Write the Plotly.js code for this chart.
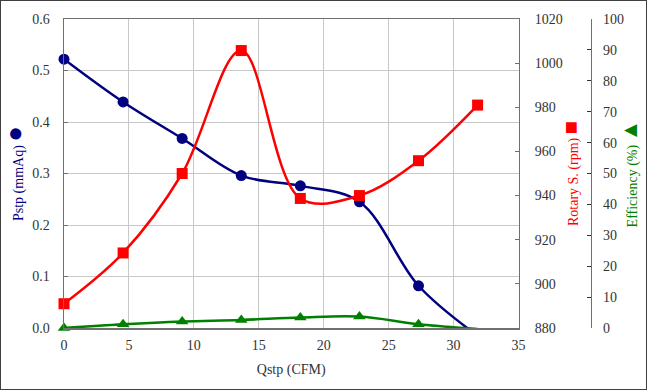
<!DOCTYPE html>
<html>
<head>
<meta charset="utf-8">
<script src="https://cdn.plot.ly/plotly-3.0.1.min.js"></script>
<style>
  html, body { margin: 0; padding: 0; background: #fff; }
  #wrap { position: relative; width: 647px; height: 390px; }
  #chart { width: 647px; height: 390px; }
  #frame { position: absolute; left: 0; top: 0; width: 645px; height: 388px; border: 1px solid #404040; pointer-events: none; }
</style>
</head>
<body>
<div id="wrap"><div id="chart"></div><div id="frame"></div></div>
<script>
// Data
const qstp = [0, 4.55, 9.1, 13.65, 18.2, 22.75, 27.3, 31.85];           // Qstp (CFM)
const pstp = [0.522, 0.439, 0.368, 0.296, 0.276, 0.245, 0.082, -0.015]; // Pstp (mmAq)
const rotary = [891, 914, 950, 1005.7, 938.7, 940, 955.8, 981];         // Rotary S. (rpm)
const efficiency = [0, 1.2, 2.1, 2.6, 3.4, 3.7, 1.2, -0.3];             // Efficiency (%)

const xTicks = [0, 5, 10, 15, 20, 25, 30, 35];

const FONT = "Liberation Serif, Times New Roman, serif";
const NAVY = "#000080", RED = "#ff0000", GREEN = "#008000";
const AXIS = "#707070", GRID = "#c8c8c8";

// hide markers for points that fall below the axis minimum (clipped in the original)
const sizesFor = (vals, s) => vals.map(v => (v < 0 ? 0 : s));

const traces = [
  {
    x: qstp, y: pstp, name: "Pstp", yaxis: "y", type: "scatter", mode: "lines+markers",
    line: { color: NAVY, width: 2.5, shape: "spline", smoothing: 1 },
    marker: { color: NAVY, symbol: "circle", size: sizesFor(pstp, 11), opacity: 1, line: { width: 0 } },
    cliponaxis: false
  },
  {
    x: qstp, y: rotary, name: "Rotary S.", yaxis: "y2", type: "scatter", mode: "lines+markers",
    line: { color: RED, width: 2.5, shape: "spline", smoothing: 1 },
    marker: { color: RED, symbol: "square", size: sizesFor(rotary, 11), opacity: 1, line: { width: 0 } },
    cliponaxis: false
  },
  {
    x: qstp, y: efficiency, name: "Efficiency", yaxis: "y3", type: "scatter", mode: "lines+markers",
    line: { color: GREEN, width: 2.5, shape: "spline", smoothing: 1 },
    marker: { color: GREEN, symbol: "triangle-up", size: sizesFor(efficiency, 11), opacity: 1, line: { width: 0 } },
    cliponaxis: false
  }
];

const tickFont = { family: FONT, size: 14, color: "#333" };

const layout = {
  width: 647, height: 390,
  margin: { l: 64, r: 10, t: 19, b: 62 },
  paper_bgcolor: "#fff", plot_bgcolor: "#fff",
  showlegend: false,
  font: { family: FONT, size: 14, color: "#333" },
  xaxis: {
    domain: [0, 0.7932],
    range: [0, 35], tickvals: xTicks, ticktext: xTicks.map(String),
    showgrid: true, gridcolor: GRID, gridwidth: 1,
    showline: true, linecolor: AXIS, linewidth: 1.5, mirror: true,
    ticks: "", zeroline: false,
    tickfont: tickFont, ticklabelstandoff: 4,
    title: { text: "Qstp (CFM)", font: { family: FONT, size: 14, color: "#333" }, standoff: 12 },
    automargin: false, fixedrange: true
  },
  yaxis: {
    range: [0, 0.6], dtick: 0.1, tickformat: ".1f",
    showgrid: true, gridcolor: GRID, gridwidth: 1,
    showline: true, linecolor: AXIS, linewidth: 1.5, mirror: true,
    ticks: "inside", ticklen: 4, tickcolor: AXIS,
    zeroline: false, tickfont: tickFont, ticklabelstandoff: 10,
    title: { text: "Pstp (mmAq) <span style='font-size:26px'>●</span>", font: { family: FONT, size: 14, color: NAVY }, standoff: 12 },
    automargin: false, fixedrange: true
  },
  yaxis2: {
    overlaying: "y", side: "right", anchor: "x",
    range: [880, 1020], dtick: 20,
    showgrid: false, zeroline: false,
    showline: true, linecolor: AXIS, linewidth: 1.5,
    ticks: "inside", ticklen: 4, tickcolor: AXIS,
    tickfont: tickFont, ticklabelstandoff: 12,
    title: { text: "Rotary S. (rpm) <span style='font-size:22px'>■</span>", font: { family: FONT, size: 14, color: RED }, standoff: 6 },
    automargin: false, fixedrange: true
  },
  yaxis3: {
    overlaying: "y", side: "right", anchor: "free", position: 0.9192,
    range: [0, 100], dtick: 10,
    showgrid: false, zeroline: false,
    showline: true, linecolor: AXIS, linewidth: 1.5,
    ticks: "inside", ticklen: 4, tickcolor: "#333",
    tickfont: tickFont, ticklabelstandoff: 8,
    title: { text: "Efficiency (%) <span style='font-size:22px'>▲</span>", font: { family: FONT, size: 14, color: GREEN }, standoff: 2 },
    automargin: false, fixedrange: true
  }
};

Plotly.newPlot("chart", traces, layout, { displayModeBar: false, staticPlot: true });
</script>
</body>
</html>
